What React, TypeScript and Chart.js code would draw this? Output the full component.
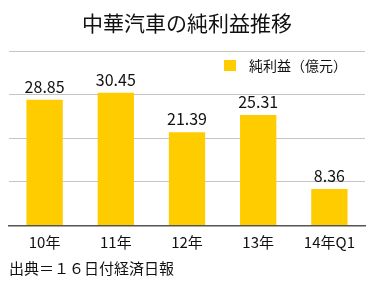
import React, { useEffect, useRef } from "react";
import { Chart, registerables } from "chart.js";

Chart.register(...registerables);

const categories = ["10年", "11年", "12年", "13年", "14年Q1"];
const profits = [28.85, 30.45, 21.39, 25.31, 8.36];
const seriesName = "純利益（億元）";
const titleText = "中華汽車の純利益推移";
const sourceText = "出典＝１６日付経済日報";
const yMin = 0;
const yMax = 40;
const yStep = 10;

const FONT = '"Noto Sans CJK JP", "Noto Sans", sans-serif';
const BAR_COLOR = "#FFCC00";

const labelPlugin = {
  id: "valueLabels",
  afterDatasetsDraw(chart: any) {
    const ctx = chart.ctx;
    const meta = chart.getDatasetMeta(0);
    ctx.save();
    ctx.font = `16px ${FONT}`;
    ctx.fillStyle = "#111";
    ctx.textAlign = "center";
    ctx.textBaseline = "bottom";
    meta.data.forEach((bar: any, i: number) => {
      ctx.fillText(profits[i].toFixed(2), bar.x, bar.y - 5);
    });
    ctx.restore();
  },
};

const legendPlugin = {
  id: "customLegend",
  afterDraw(chart: any) {
    const ctx = chart.ctx;
    const area = chart.chartArea;
    ctx.save();
    ctx.fillStyle = BAR_COLOR;
    const bx = area.right - 141;
    const by = area.top + 9;
    ctx.fillRect(bx, by, 12, 11);
    ctx.font = `14px ${FONT}`;
    ctx.fillStyle = "#111";
    ctx.textAlign = "left";
    ctx.textBaseline = "middle";
    ctx.fillText(seriesName, bx + 25, by + 5.5);
    ctx.restore();
  },
};

export default function App() {
  const ref = useRef<HTMLCanvasElement>(null);
  useEffect(() => {
    document.body.style.margin = "0";
    const chart = new Chart(ref.current!, {
      type: "bar",
      data: {
        labels: categories,
        datasets: [
          {
            label: seriesName,
            data: profits,
            backgroundColor: BAR_COLOR,
            borderWidth: 0,
            barPercentage: 0.6,
            categoryPercentage: 0.85,
          },
        ],
      },
      options: {
        animation: false,
        responsive: false,
        layout: { padding: { left: 9, right: 9, top: 0, bottom: 0 } },
        plugins: {
          legend: { display: false },
          tooltip: { enabled: false },
          title: {
            display: true,
            text: titleText,
            color: "#111",
            font: { family: FONT, size: 21, weight: "normal" },
            padding: { top: 10, bottom: 15.8 },
          },
          subtitle: {
            display: true,
            position: "bottom",
            align: "start",
            text: sourceText,
            color: "#111",
            font: { family: FONT, size: 15, weight: "normal" },
            padding: { top: 0, bottom: 6.5 },
          },
        },
        scales: {
          x: {
            grid: { display: false, drawTicks: false },
            border: { display: true, color: "#555", width: 1.5 },
            ticks: {
              color: "#111",
              font: { family: FONT, size: 15 },
              padding: 8,
            },
          },
          y: {
            min: yMin,
            max: yMax,
            ticks: { display: false, stepSize: yStep },
            grid: { color: "#c4c4c4", drawTicks: false, lineWidth: 1 },
            border: { display: false },
          },
        },
      },
      plugins: [labelPlugin, legendPlugin],
    });
    return () => chart.destroy();
  }, []);
  return (
    <div style={{ width: 374, height: 284 }}>
      <canvas ref={ref} width={374} height={284} style={{ width: 374, height: 284 }} />
    </div>
  );
}
